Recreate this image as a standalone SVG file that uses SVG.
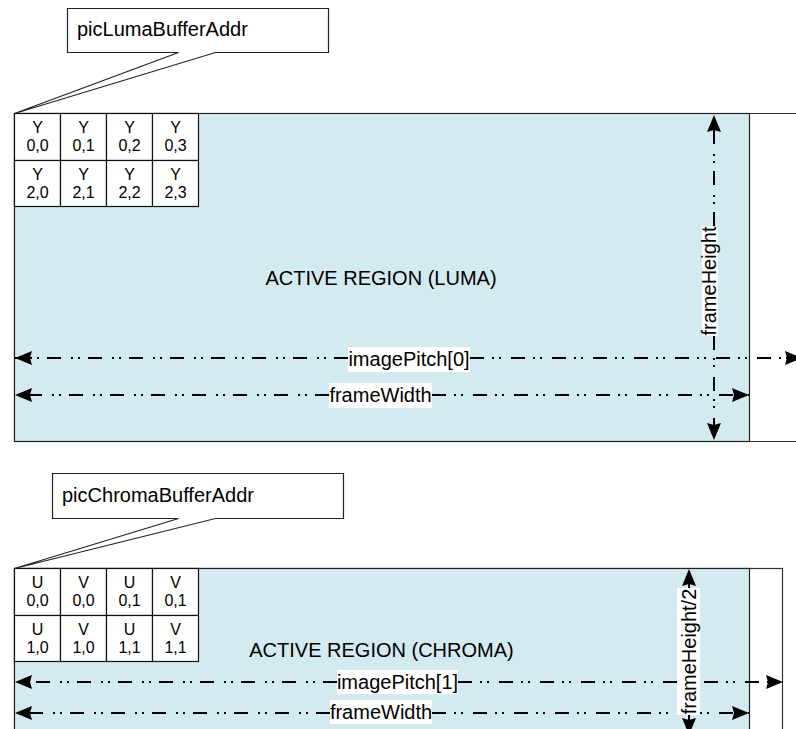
<svg xmlns="http://www.w3.org/2000/svg" width="796" height="729" viewBox="0 0 796 729">
  <style>
    text { font-family: "Liberation Sans", Arial, sans-serif; fill: #000; }
    .big { font-size: 20px; }
    .cell-t { font-size: 16px; text-anchor: middle; }
    .mid { text-anchor: middle; }
    .region { fill: #D3EAF0; stroke: #222; stroke-width: 1.2; }
    .outer { fill: #fff; stroke: #333; stroke-width: 1.2; }
    .cell { fill: #fff; stroke: #111; stroke-width: 1.2; }
    .callout { fill: #fff; stroke: #222; stroke-width: 1.2; }
    .dim { fill: none; stroke: #000; stroke-width: 2; stroke-dasharray: 14 8 2 5 2 10; }
    .lbl { fill: #fff; }
  </style>
  <defs>
    <marker id="arr" markerUnits="userSpaceOnUse" markerWidth="18" markerHeight="16" refX="17" refY="8" orient="auto-start-reverse" overflow="visible">
      <path d="M0,1 L17,8 L0,15 L2,8 z" fill="#000"/>
    </marker>
  </defs>

  <!-- ============ LUMA ============ -->
  <g id="luma-outer">
    <path class="outer" d="M800,113.5 L14.5,113.5 L14.5,441.5 L800,441.5"/>
  </g>
  <g id="luma-region">
    <rect class="region" x="14.5" y="113.5" width="735" height="328"/>
    <text class="big mid" x="381" y="285">ACTIVE REGION (LUMA)</text>
  </g>

  <g id="luma-cells">
    <g id="y00"><rect class="cell" x="14.5" y="113.5" width="46" height="47"/><text class="cell-t" x="37.5" y="133">Y</text><text class="cell-t" x="37.5" y="151">0,0</text></g>
    <g id="y01"><rect class="cell" x="60.5" y="113.5" width="46" height="47"/><text class="cell-t" x="83.5" y="133">Y</text><text class="cell-t" x="83.5" y="151">0,1</text></g>
    <g id="y02"><rect class="cell" x="106.5" y="113.5" width="46" height="47"/><text class="cell-t" x="129.5" y="133">Y</text><text class="cell-t" x="129.5" y="151">0,2</text></g>
    <g id="y03"><rect class="cell" x="152.5" y="113.5" width="46" height="47"/><text class="cell-t" x="175.5" y="133">Y</text><text class="cell-t" x="175.5" y="151">0,3</text></g>
    <g id="y20"><rect class="cell" x="14.5" y="160.5" width="46" height="46"/><text class="cell-t" x="37.5" y="180">Y</text><text class="cell-t" x="37.5" y="198">2,0</text></g>
    <g id="y21"><rect class="cell" x="60.5" y="160.5" width="46" height="46"/><text class="cell-t" x="83.5" y="180">Y</text><text class="cell-t" x="83.5" y="198">2,1</text></g>
    <g id="y22"><rect class="cell" x="106.5" y="160.5" width="46" height="46"/><text class="cell-t" x="129.5" y="180">Y</text><text class="cell-t" x="129.5" y="198">2,2</text></g>
    <g id="y23"><rect class="cell" x="152.5" y="160.5" width="46" height="46"/><text class="cell-t" x="175.5" y="180">Y</text><text class="cell-t" x="175.5" y="198">2,3</text></g>
  </g>

  <g id="callout-luma">
    <path class="callout" d="M178.5,52.5 L67.5,52.5 L67.5,8.5 L328.5,8.5 L328.5,52.5 L215.5,52.5 L14.5,113.5 Z"/>
    <text class="big" x="77" y="36">picLumaBufferAddr</text>
  </g>

  <!-- ============ CHROMA ============ -->
  <g id="chroma-outer">
    <rect class="outer" x="14.5" y="568.5" width="768" height="170"/>
  </g>
  <g id="chroma-region">
    <rect class="region" x="14.5" y="568.5" width="735" height="170"/>
    <text class="big mid" x="381.5" y="657">ACTIVE REGION (CHROMA)</text>
  </g>

  <g id="chroma-cells">
    <g id="u00"><rect class="cell" x="14.5" y="568.5" width="46" height="47"/><text class="cell-t" x="37.5" y="588">U</text><text class="cell-t" x="37.5" y="606">0,0</text></g>
    <g id="v00"><rect class="cell" x="60.5" y="568.5" width="46" height="47"/><text class="cell-t" x="83.5" y="588">V</text><text class="cell-t" x="83.5" y="606">0,0</text></g>
    <g id="u01"><rect class="cell" x="106.5" y="568.5" width="46" height="47"/><text class="cell-t" x="129.5" y="588">U</text><text class="cell-t" x="129.5" y="606">0,1</text></g>
    <g id="v01"><rect class="cell" x="152.5" y="568.5" width="46" height="47"/><text class="cell-t" x="175.5" y="588">V</text><text class="cell-t" x="175.5" y="606">0,1</text></g>
    <g id="u10"><rect class="cell" x="14.5" y="615.5" width="46" height="46"/><text class="cell-t" x="37.5" y="635">U</text><text class="cell-t" x="37.5" y="653">1,0</text></g>
    <g id="v10"><rect class="cell" x="60.5" y="615.5" width="46" height="46"/><text class="cell-t" x="83.5" y="635">V</text><text class="cell-t" x="83.5" y="653">1,0</text></g>
    <g id="u11"><rect class="cell" x="106.5" y="615.5" width="46" height="46"/><text class="cell-t" x="129.5" y="635">U</text><text class="cell-t" x="129.5" y="653">1,1</text></g>
    <g id="v11"><rect class="cell" x="152.5" y="615.5" width="46" height="46"/><text class="cell-t" x="175.5" y="635">V</text><text class="cell-t" x="175.5" y="653">1,1</text></g>
  </g>

  <g id="callout-chroma">
    <path class="callout" d="M178.5,518.5 L52.5,518.5 L52.5,473.5 L343.5,473.5 L343.5,518.5 L215.5,518.5 L14.5,568.5 Z"/>
    <text class="big" x="62" y="502">picChromaBufferAddr</text>
  </g>

  <!-- ============ CONNECTORS (dimension lines) ============ -->
  <g id="connectors">
    <!-- luma frameHeight -->
    <path class="dim" d="M714,226 L714,115" marker-end="url(#arr)"/>
    <path class="dim" d="M714,336 L714,440" marker-end="url(#arr)"/>
    <!-- luma imagePitch[0] -->
    <path class="dim" d="M348,358 L15,358" marker-end="url(#arr)"/>
    <path class="dim" d="M470,358 L802,358" marker-end="url(#arr)"/>
    <!-- luma frameWidth -->
    <path class="dim" d="M329,395 L15,395" marker-end="url(#arr)"/>
    <path class="dim" d="M432,395 L749,395" marker-end="url(#arr)"/>
    <!-- chroma frameHeight/2 -->
    <path class="dim" d="M689,588 L689,569" marker-end="url(#arr)"/>
    <path class="dim" d="M689,715 L689,735" marker-end="url(#arr)"/>
    <!-- chroma imagePitch[1] -->
    <path class="dim" d="M337,682 L15,682" marker-end="url(#arr)"/>
    <path class="dim" d="M458,682 L783,682" marker-end="url(#arr)"/>
    <!-- chroma frameWidth -->
    <path class="dim" d="M330,713 L15,713" marker-end="url(#arr)"/>
    <path class="dim" d="M432,713 L749,713" marker-end="url(#arr)"/>
  </g>

  <!-- ============ DIMENSION LABELS ============ -->
  <g id="lbl-frameHeight">
    <rect class="lbl" x="702" y="226" width="16" height="110"/>
    <text class="big mid" transform="translate(716,281) rotate(-90)">frameHeight</text>
  </g>
  <g id="lbl-imagePitch0">
    <rect class="lbl" x="348" y="347" width="122" height="25"/>
    <text class="big mid" x="409" y="366">imagePitch[0]</text>
  </g>
  <g id="lbl-frameWidth-luma">
    <rect class="lbl" x="329" y="383" width="103" height="25"/>
    <text class="big mid" x="380.5" y="402">frameWidth</text>
  </g>
  <g id="lbl-frameHeight2">
    <rect class="lbl" x="677" y="588" width="23" height="127"/>
    <text class="big mid" transform="translate(696,651.5) rotate(-90)">frameHeight/2</text>
  </g>
  <g id="lbl-imagePitch1">
    <rect class="lbl" x="337" y="670" width="121" height="24"/>
    <text class="big mid" x="397.5" y="689">imagePitch[1]</text>
  </g>
  <g id="lbl-frameWidth-chroma">
    <rect class="lbl" x="330" y="700" width="102" height="24"/>
    <text class="big mid" x="381" y="719">frameWidth</text>
  </g>
</svg>
